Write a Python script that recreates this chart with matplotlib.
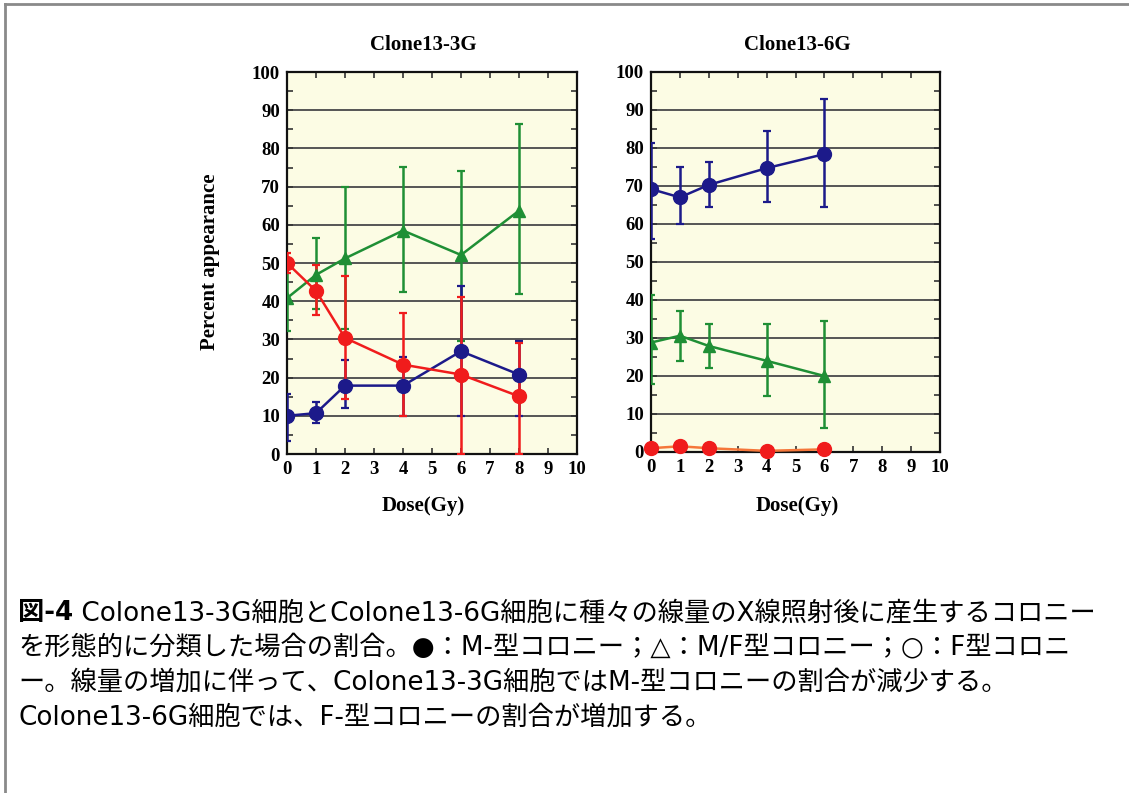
import matplotlib
matplotlib.use("Agg")
import matplotlib.pyplot as plt
from matplotlib.lines import Line2D

# ---------------- data ----------------
dose_3g = [0, 1, 2, 4, 6, 8]
m_3g = [50, 42.7, 30.4, 23.4, 20.8, 15.1]
m_3g_lo = [47.5, 36.3, 14.4, 10.0, 0.0, 0.0]
m_3g_hi = [52.6, 49.5, 46.7, 36.8, 41.2, 29.1]
b_3g = [10.0, 10.7, 17.9, 17.9, 26.9, 20.8]
b_3g_lo = [3.4, 8.1, 12.0, 10.0, 10.0, 10.0]
b_3g_hi = [15.8, 13.5, 24.6, 25.4, 44.0, 29.7]
g_3g = [40.8, 46.9, 51.2, 58.5, 52.1, 63.7]
g_3g_lo = [32.2, 37.9, 32.6, 42.3, 29.6, 41.8]
g_3g_hi = [49.4, 56.5, 69.8, 75.2, 74.1, 86.4]

dose_6g = [0, 1, 2, 4, 6]
b_6g = [69.2, 67.0, 70.3, 74.7, 78.4]
b_6g_lo = [56.0, 59.9, 64.6, 65.7, 64.4]
b_6g_hi = [81.3, 75.0, 76.4, 84.5, 92.9]
g_6g = [28.8, 30.6, 27.9, 24.0, 20.0]
g_6g_lo = [17.8, 23.9, 22.0, 14.8, 6.3]
g_6g_hi = [41.3, 37.2, 33.8, 33.6, 34.5]
r_6g = [1.0, 1.5, 1.0, 0.3, 0.7]

titles = ["Clone13-3G", "Clone13-6G"]
xlabel = "Dose(Gy)"
ylabel = "Percent appearance"
caption_bold = "図-4"
caption_lines = [
    " Colone13-3G細胞とColone13-6G細胞に種々の線量のX線照射後に産生するコロニー",
    "を形態的に分類した場合の割合。●：M-型コロニー；△：M/F型コロニー；○：F型コロニ",
    "ー。線量の増加に伴って、Colone13-3G細胞ではM-型コロニーの割合が減少する。",
    "Colone13-6G細胞では、F-型コロニーの割合が増加する。",
]

# ---------------- style ----------------
W, H = 1129, 793
DPI = 100
RED = "#f01c1c"
BLUE = "#1c1a8a"
GREEN = "#1f8f35"
ORANGE = "#f5773a"
FACE = "#fcfce4"
serif = ["Liberation Serif", "DejaVu Serif"]
cap_family = ["DejaVu Sans", "Noto Sans CJK JP"]

fig = plt.figure(figsize=(W / DPI, H / DPI), dpi=DPI)
fig.patch.set_facecolor("white")

# outer frame (top and left only)
fig.add_artist(Line2D([4.5 / W, 4.5 / W], [0, 1 - 4 / H], transform=fig.transFigure,
                      color="#8a8a8a", lw=2))
fig.add_artist(Line2D([4.5 / W, 1], [1 - 4 / H, 1 - 4 / H], transform=fig.transFigure,
                      color="#8a8a8a", lw=2))


def px_axes(x0, x1, y0, y1):
    return fig.add_axes([x0 / W, 1 - y1 / H, (x1 - x0) / W, (y1 - y0) / H])


ax1 = px_axes(287, 577, 72, 454)
ax2 = px_axes(651, 940, 72, 452)


def errs(y, lo, hi):
    return [[a - b for a, b in zip(y, lo)], [b - a for a, b in zip(y, hi)]]


def series(ax, x, y, lo, hi, color, marker, ms, linecolor=None):
    ax.errorbar(x, y, yerr=errs(y, lo, hi), color=color, ecolor=color,
                elinewidth=1.8, capsize=3, capthick=1.6, lw=0, zorder=3)
    ax.plot(x, y, color=linecolor or color, lw=1.8, zorder=4)
    ax.plot(x, y, ls="none", marker=marker, ms=ms, color=color, zorder=5)


for ax in (ax1, ax2):
    ax.set_facecolor(FACE)
    ax.set_xlim(0, 10)
    ax.set_ylim(0, 100)
    ax.set_xticks(range(0, 11))
    ax.set_yticks(range(0, 101, 10))
    ax.set_yticks(range(5, 100, 10), minor=True)
    for y in range(10, 100, 10):
        ax.axhline(y, color="#555555", lw=1.4, zorder=1)
    ax.tick_params(axis="both", which="both", direction="in", top=True, right=True,
                   length=4, width=1.2, color="#333333", pad=5)
    ax.tick_params(axis="x", pad=5)
    for sp in ax.spines.values():
        sp.set_linewidth(1.6)
        sp.set_color("#111111")
    for lab in ax.get_xticklabels() + ax.get_yticklabels():
        lab.set_fontfamily(serif)
        lab.set_fontweight("bold")
        lab.set_fontsize(13.5)

series(ax1, dose_3g, g_3g, g_3g_lo, g_3g_hi, GREEN, "^", 8)
series(ax1, dose_3g, b_3g, b_3g_lo, b_3g_hi, BLUE, "o", 10)
series(ax1, dose_3g, m_3g, m_3g_lo, m_3g_hi, RED, "o", 10)

series(ax2, dose_6g, g_6g, g_6g_lo, g_6g_hi, GREEN, "^", 8)
series(ax2, dose_6g, b_6g, b_6g_lo, b_6g_hi, BLUE, "o", 10)
ax2.plot(dose_6g, r_6g, color=ORANGE, lw=1.8, zorder=4, clip_on=False)
ax2.plot(dose_6g, r_6g, ls="none", marker="o", ms=10, color=RED, zorder=5, clip_on=False)

# titles and labels
lab_fs = 15
fig.text(423 / W, 1 - 45 / H, titles[0], ha="center", va="center",
         family=serif, weight="bold", fontsize=lab_fs)
fig.text(797 / W, 1 - 45 / H, titles[1], ha="center", va="center",
         family=serif, weight="bold", fontsize=lab_fs)
fig.text(423 / W, 1 - 506 / H, xlabel, ha="center", va="center",
         family=serif, weight="bold", fontsize=lab_fs)
fig.text(797 / W, 1 - 506 / H, xlabel, ha="center", va="center",
         family=serif, weight="bold", fontsize=lab_fs)
fig.text(210 / W, 1 - 262 / H, ylabel, ha="center", va="center", rotation=90,
         family=serif, weight="bold", fontsize=lab_fs)

# caption
cap_fs = 18.9
line_y = [613, 648, 683, 718]
x0 = 18 / W
renderer = fig.canvas.get_renderer()
tb = fig.text(x0, 1 - line_y[0] / H, caption_bold, ha="left", va="center",
              family=cap_family, weight="bold", fontsize=cap_fs)
bb = tb.get_window_extent(renderer=renderer)
fig.text(bb.x1 / W, 1 - line_y[0] / H, caption_lines[0], ha="left", va="center",
         family=cap_family, fontsize=cap_fs)
for yy, txt in zip(line_y[1:], caption_lines[1:]):
    fig.text(x0, 1 - yy / H, txt, ha="left", va="center", family=cap_family,
             fontsize=cap_fs)

fig.savefig("out.png", dpi=DPI)
